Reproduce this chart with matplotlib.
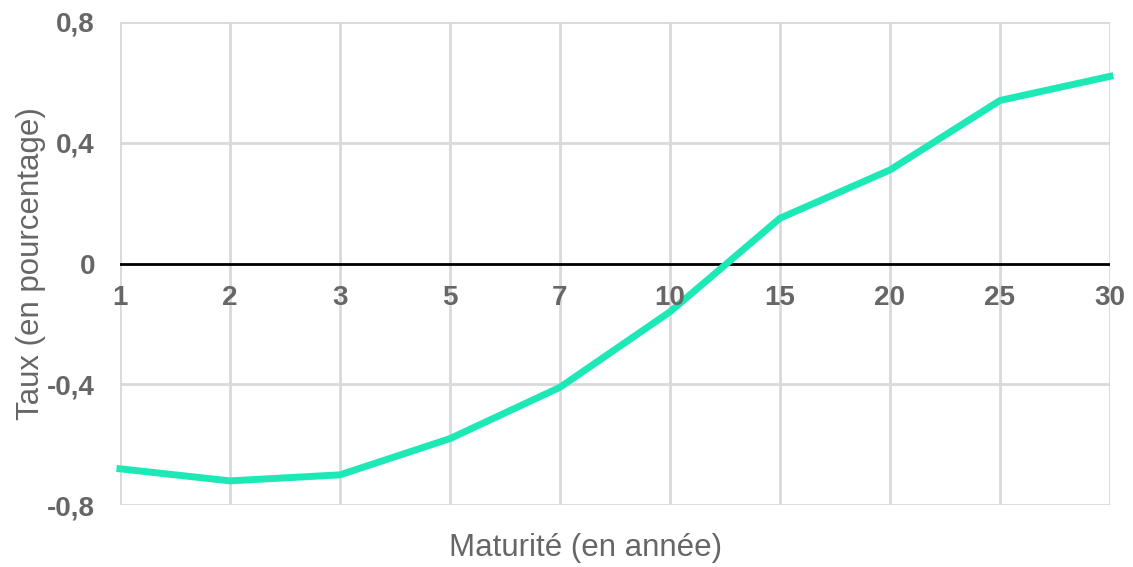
import matplotlib.pyplot as plt

plt.rcParams['font.family'] = ['Liberation Sans', 'DejaVu Sans']

# Courbe des taux : maturités (en années) et taux (en %)
maturites = ['1', '2', '3', '5', '7', '10', '15', '20', '25', '30']
taux = [-0.68, -0.72, -0.70, -0.58, -0.41, -0.16, 0.15, 0.31, 0.54, 0.62]
yticks = [-0.8, -0.4, 0, 0.4, 0.8]
ylabels = ['-0,8', '-0,4', '0', '0,4', '0,8']

gris = '#666666'
grille = '#d9d9d9'

fig = plt.figure(figsize=(11.33, 5.67), dpi=100)
ax = fig.add_axes([0.1059, 0.1093, 0.8738, 0.8519])

x = list(range(len(maturites)))
ax.set_xlim(0, len(maturites) - 1)
ax.set_ylim(-0.8, 0.8)

# grille
for xi in x:
    ax.axvline(xi, color=grille, lw=2, zorder=1)
for yv in yticks:
    ax.axhline(yv, color=grille, lw=2, zorder=1)
ax.axhline(0, color='black', lw=2, zorder=2)

ax.plot(x, taux, color='#1de9b6', lw=5, solid_joinstyle='miter', zorder=3,
        clip_on=False)

for s in ax.spines.values():
    s.set_visible(False)

ax.set_yticks(yticks)
ax.set_yticklabels(ylabels, fontsize=20, fontweight='bold', color=gris)
ax.tick_params(axis='y', length=0, pad=18)
ax.set_xticks([])

# étiquettes de maturité sous l'axe zéro
for xi, lab in zip(x, maturites):
    ax.text(xi, -0.115, lab, ha='center', va='center', fontsize=20,
            fontweight='bold', color=gris)

ax.set_ylabel('Taux (en pourcentage)', fontsize=22.5, color=gris, labelpad=1)
ax.set_xlabel('Maturité (en année)', fontsize=22.5, color=gris, va='center')
ax.xaxis.set_label_coords(0.47, -0.089)

fig.savefig('out.png', dpi=100)
